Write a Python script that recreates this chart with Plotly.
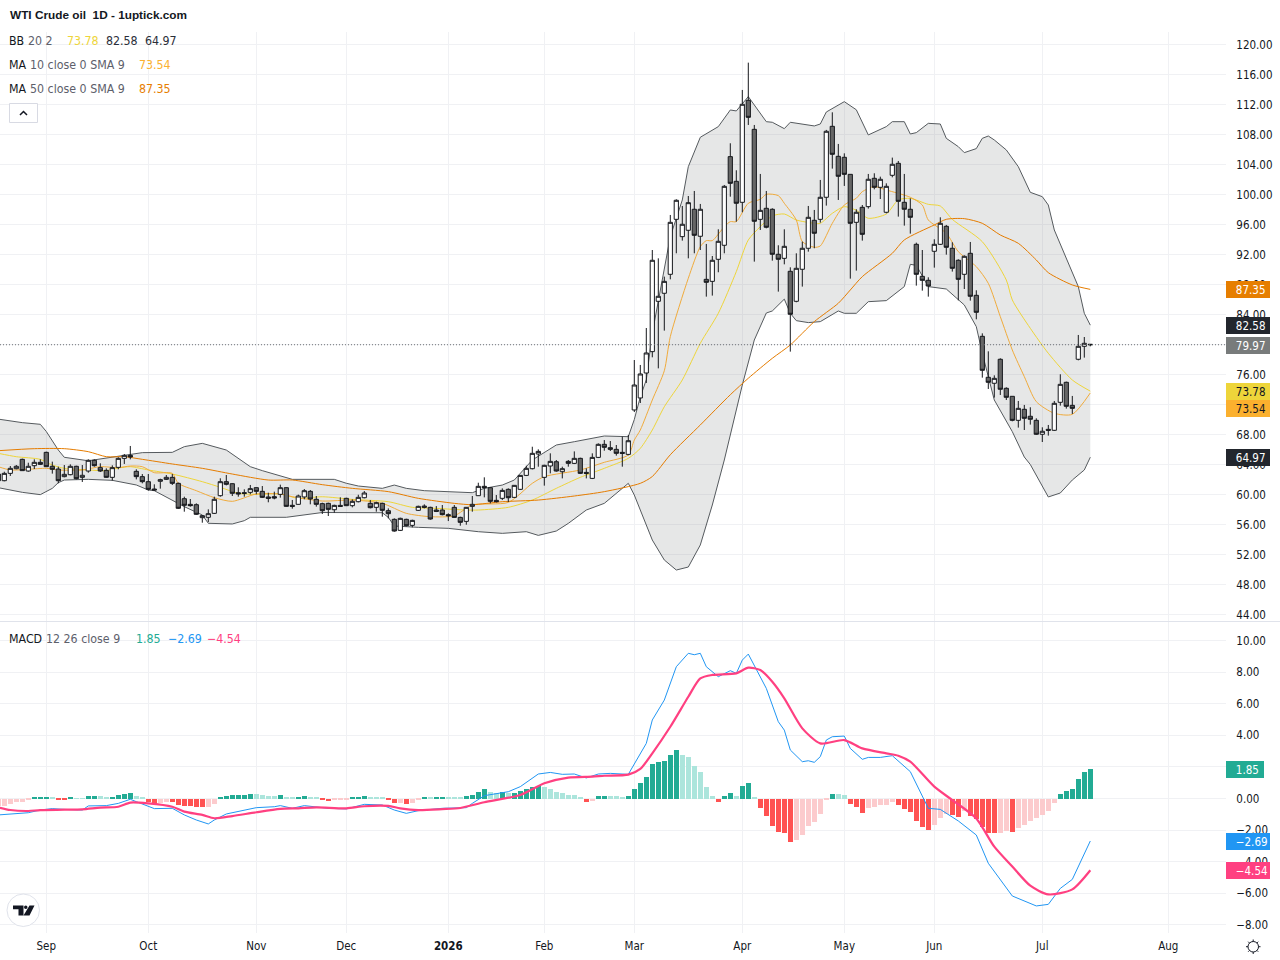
import plotly.graph_objects as go

# ---- daily bars, first entry is the partly hidden bar at the left edge ----
bar_index = list(range(-1, 182))
opens = [62.73,
 61.84,62.82,63.44,64.69,63.13,63.84,64.29,65.62,63.76,63.4,
 62.38,62.64,63.76,62.29,63.13,64.56,63.58,63.22,62.29,63.62,
 64.82,65.22,63.09,62.38,61.71,60.73,61.76,62.02,62.29,61.49,
 59.44,58.69,58.64,56.91,56.96,57.49,59.84,61.71,61.44,60.24,
 60.24,60.29,60.91,60.42,59.67,59.71,60.02,60.91,58.56,58.69,
 59.67,60.42,59.36,58.78,58.82,57.97,58.55,59.49,58.51,59.04,
 59.57,58.82,58.29,58.82,57.84,56.69,55.22,56.69,55.89,57.89,
 58.46,58.29,57.93,57.93,57.31,58.29,56.95,56.42,58.42,59.84,
 61.09,60.91,59.22,59.49,60.69,59.62,60.69,62.55,63.44,65.4,
 62.29,63.8,64.37,63.04,64.42,64.15,64.82,62.95,62.15,64.95,
 66.69,66.24,66.02,65.62,65.35,71.27,72.87,76.2,79.05,85.76,
 86.83,89.36,96.69,94.38,95.23,98.03,94.43,88.69,88.42,91.36,
 93.23,105.05,101.76,98.96,112.56,108.69,96.69,98.16,98.03,92.03,
 91.49,89.76,85.76,90.03,92.83,96.56,96.69,99.63,109.09,105.09,
 104.96,102.69,96.29,98.29,98.38,102.16,100.96,97.63,102.56,104.16,
 98.96,98.03,93.36,89.09,88.56,92.43,93.36,95.76,92.83,91.23,
 89.36,92.16,86.56,81.09,75.63,74.83,78.03,74.16,73.09,69.89,
 71.36,70.43,69.89,68.03,68.69,68.56,72.29,74.96,71.89,78.03,
 79.76,80.03]
highs = [62.9,
 63.04,63.8,63.93,64.78,64.24,64.69,64.69,65.71,64.38,63.71,
 63.93,64.02,63.84,63.93,64.69,64.69,64.16,63.49,63.89,64.96,
 65.4,66.47,63.36,62.73,62.73,61.36,62.11,62.6,62.73,61.58,
 59.71,59.4,58.82,57.27,58.02,59.71,62.16,62.6,61.49,60.96,
 60.69,61.27,60.96,61.13,60.24,60.38,61.31,60.96,59.27,59.98,
 60.73,60.6,59.8,58.91,58.91,58.64,59.62,59.57,59.35,59.97,
 60.46,59.26,59.04,58.91,58.15,56.82,56.91,56.77,56.64,58.51,
 58.69,58.37,58.46,58.6,57.49,58.6,57.04,58.33,59.8,61.57,
 62.29,60.95,59.93,60.82,60.82,61.26,62.6,63.84,66.37,66.02,
 63.97,65.49,64.6,63.71,64.6,65.75,64.91,63.49,65.49,66.82,
 67.26,67.13,66.6,67.71,67.93,77.93,77.27,82.2,92.6,91.49,
 89.05,97.27,99.36,98.47,99.8,100.47,98.74,93.41,91.8,95.36,
 101.27,106.83,103.23,113.94,117.58,109.27,102.74,100.47,98.16,93.23,
 95.36,90.29,92.16,93.72,98.47,97.94,101.94,108.61,110.96,106.74,
 105.49,102.69,98.03,98.6,102.74,102.83,102.38,101.49,104.92,104.47,
 102.74,99.49,93.58,92.6,88.96,94.03,96.96,95.94,93.63,91.36,
 91.89,93.67,87.23,81.49,79.09,75.89,78.16,74.29,73.09,72.47,
 71.94,71.63,70.16,68.96,69.27,72.47,76.03,75.05,73.14,81.27,
 81.0,80.06]
lows = [61.7,
 61.76,62.47,63.36,63.18,63.04,63.4,63.93,63.71,62.78,61.49,
 62.29,62.56,62.02,61.67,62.91,63.71,63.0,62.24,61.84,63.36,
 64.07,64.69,62.02,61.49,60.51,60.51,60.78,61.93,61.27,58.07,
 57.71,58.38,57.27,56.24,56.33,57.4,59.71,61.22,59.8,59.71,
 59.71,60.02,60.02,59.53,58.96,59.36,59.58,58.38,58.11,58.64,
 59.36,58.69,58.38,57.4,57.13,57.57,58.37,58.46,58.29,58.95,
 59.49,58.15,57.71,57.04,56.82,55.04,55.13,55.75,55.62,57.8,
 58.15,56.64,57.66,57.22,56.46,56.91,55.84,55.97,57.71,59.8,
 59.62,58.82,58.95,59.26,59.0,59.53,60.6,62.46,63.35,63.71,
 61.18,62.82,63.04,62.15,63.71,64.06,62.73,62.15,62.06,64.86,
 65.84,65.8,65.18,63.71,65.22,71.0,72.2,74.87,78.29,76.82,
 81.85,88.69,92.16,93.85,91.49,92.16,92.6,86.38,86.52,89.63,
 92.16,99.71,96.38,97.63,109.27,91.05,95.27,95.49,91.18,87.05,
 90.69,79.05,85.63,87.72,92.38,92.83,96.25,98.52,103.45,99.27,
 101.14,88.78,89.85,93.85,98.12,100.69,99.4,97.49,102.29,97.05,
 95.85,94.78,87.85,87.18,86.38,90.25,93.27,91.98,89.72,85.89,
 87.4,85.85,83.36,75.58,74.07,72.92,73.27,72.6,69.76,68.92,
 68.6,69.32,67.94,67.0,67.85,68.47,71.85,71.45,70.74,77.89,
 78.25,79.76]
closes = [61.84,
 62.82,63.49,63.76,63.18,63.76,64.29,64.02,63.71,63.36,61.84,
 62.69,63.76,62.11,62.56,64.56,63.84,63.13,62.29,63.58,64.82,
 65.22,65.0,62.38,61.71,60.69,60.6,61.98,62.29,61.49,58.16,
 58.56,58.51,57.36,57.18,57.44,59.36,61.71,61.36,60.16,60.07,
 60.16,60.78,60.42,59.62,59.49,59.53,60.91,58.42,58.42,59.8,
 60.51,59.4,58.69,57.84,58.02,58.55,58.42,58.51,59.09,59.62,
 60.2,58.24,58.91,57.89,57.44,55.13,56.82,55.84,56.55,58.42,
 58.29,56.73,57.75,57.31,57.17,56.95,56.29,58.29,58.69,61.09,
 60.91,59.09,59.04,60.55,59.57,61.22,62.55,63.49,65.49,65.75,
 63.89,64.42,63.13,63.44,64.15,64.82,62.82,62.82,64.95,66.69,
 66.29,66.02,65.49,65.49,67.17,74.6,76.07,78.87,91.23,86.43,
 88.42,96.29,99.23,96.03,98.91,94.56,98.03,88.29,91.23,93.76,
 101.09,101.49,98.83,112.03,110.29,96.43,97.89,95.63,92.03,91.36,
 93.09,84.03,90.16,92.83,96.96,94.83,99.63,108.43,105.36,102.43,
 102.69,96.16,97.63,94.69,102.03,100.96,102.03,101.09,104.03,99.09,
 98.03,96.96,89.36,88.56,87.8,93.36,96.16,92.96,90.16,88.69,
 91.76,86.43,84.29,76.56,74.96,75.49,74.03,72.96,69.89,71.49,
 70.16,70.03,68.03,68.43,68.56,72.16,74.69,71.76,71.49,79.76,
 80.16,79.97]

# ---- Bollinger bands (20, 2) ----
bb_upper_idx = [-1,3,6,7,9,10,14,18,21,23,28,30,33,37,41,43,48,53,55,57,59,63,65,67,70,78,80,83,85,88,92,95,100,104,105,106,107,108,109,110,111,113,114,116,119,121,122,124,125,127,128,130,131,135,136,137,140,142,144,147,148,150,151,152,154,156,157,159,160,162,163,164,165,167,169,171,173,174,175,179,180,181]
bb_upper = [70.05,69.58,69.36,68.4,65.93,64.96,64.5,64.95,65.27,65.58,65.62,66.38,66.82,65.93,63.71,63.18,62.02,62.0,62.02,61.5,61.13,60.82,61.26,60.82,60.51,60.24,60.82,61.26,61.93,64.6,66.6,67.04,67.8,67.71,70.0,73.0,75.3,81.5,85.8,90.0,94.38,99.27,103.71,107.63,109.05,111.27,111.14,113.05,111.94,109.71,109.63,108.78,109.63,109.14,109.4,111.0,112.38,111.3,107.94,109.05,109.71,109.71,108.07,108.25,109.49,109.4,107.49,106.38,105.58,106.12,107.49,107.8,107.27,105.94,103.71,100.29,99.71,98.6,95.27,87.72,84.16,82.58]
bb_lower_idx = [-1,3,6,8,9,10,14,18,22,24,25,29,30,33,34,38,40,41,47,53,57,63,64,65,69,74,79,83,87,89,92,94,97,100,103,104,105,106,108,110,112,114,116,118,120,123,125,127,128,130,131,132,134,136,139,140,142,144,147,150,151,152,154,157,159,160,162,163,165,168,170,171,174,176,178,180,181]
bb_lower = [60.91,60.29,59.98,60.82,61.58,61.93,62.02,61.89,61.27,60.6,60.51,58.82,58.38,57.27,56.16,56.07,56.51,56.96,56.96,57.6,57.62,57.57,56.95,55.8,55.62,55.49,55.04,54.82,55.04,54.55,55.13,56.15,57.93,58.82,60.82,61.49,59.93,57.93,53.93,51.27,49.93,50.33,53.27,58.6,64.6,74.6,80.6,84.2,84.47,86.05,84.16,83.18,82.92,83.05,84.47,84.16,84.16,85.71,85.85,87.72,90.69,90.56,87.72,87.4,85.94,85.27,82.38,78.83,72.6,68.38,65.0,64.0,59.67,60.2,61.93,63.27,64.97]
bb_basis_idx = [-1,2,6,8,10,14,17,19,21,24,28,33,36,39,42,46,49,53,58,64,68,72,77,79,84,88,92,96,100,104,106,108,110,113,116,119,122,124,126,128,130,132,135,136,138,140,142,144,147,149,151,154,156,158,163,167,168,171,174,178,181]
bb_basis = [65.49,65.04,64.69,63.93,63.49,63.27,63.18,63.53,63.71,63.27,62.73,61.71,60.96,60.16,60.02,60.07,59.49,59.7,59.35,59.04,58.29,58.15,57.93,57.93,58.29,59.26,60.82,62.29,63.49,64.82,66.15,68.6,71.7,75.27,80.16,84.16,89.72,93.94,95.71,97.14,97.4,96.6,96.16,96.16,97.49,98.38,97.9,96.83,97.4,99.27,99.49,98.69,98.47,96.69,93.71,88.6,85.94,82.16,78.83,75.27,73.78]

# ---- moving averages ----
ma10_idx = [-1,1,4,7,9,13,16,19,21,23,25,28,29,32,35,38,42,46,48,53,58,63,67,71,75,78,84,88,90,96,100,104,105,106,108,110,111,114,116,117,118,120,121,122,124,126,127,129,130,132,133,135,136,138,140,142,143,145,147,151,153,154,157,159,162,164,166,168,170,172,175,178,181]
ma10 = [63.71,63.27,63.36,63.49,63.27,63.27,63.71,63.58,63.8,63.71,62.91,62.82,61.49,60.51,59.58,59.09,60.07,60.07,59.71,59.13,59.26,58.82,57.49,57.04,57.17,58.6,58.95,61.49,62.38,63.27,64.29,65.27,67.26,68.6,72.6,76.5,81.05,88.83,93.05,93.85,93.85,95.71,96.38,96.38,98.83,99.36,100.03,99.85,98.83,96.6,93.72,92.96,93.14,96.16,98.6,99.5,100.38,101.05,100.6,99.63,98.6,96.6,94.83,92.38,90.38,88.16,83.72,79.27,75.72,72.38,70.83,70.69,73.54]
ma50_idx = [-1,5,10,14,17,20,23,28,33,38,44,48,53,58,64,69,75,78,83,89,95,100,106,108,111,116,121,124,128,131,135,139,141,143,148,150,155,157,160,163,166,169,172,174,178,181]
ma50 = [65.84,66.11,66.11,65.71,65.04,65.04,64.69,64.07,63.49,62.73,61.93,61.93,61.31,60.82,60.38,59.49,58.82,58.64,59.04,59.26,59.8,60.38,61.49,62.4,65.3,69.27,73.3,75.5,78.16,79.94,83.05,85.5,87.27,89.05,92.16,93.94,95.94,96.69,96.78,96.16,94.6,93.49,91.27,89.58,87.94,87.35]

# ---- MACD (12, 26, 9) ----
macd_idx = [-1,1,4,6,8,10,13,14,17,19,21,22,25,28,30,32,34,35,37,42,45,46,48,50,54,57,60,63,65,67,69,73,77,78,80,84,86,89,91,93,95,97,99,101,104,107,108,110,112,114,115,116,117,119,121,122,123,124,127,129,130,131,133,134,135,136,137,138,140,141,143,144,146,148,151,154,156,159,162,164,168,172,174,176,178,181]
macd_line = [-1.04,-1.0,-.9,-.73,-.64,-.69,-.73,-.47,-.45,-.31,-.05,-.2,-.64,-.62,-1.04,-1.36,-1.61,-1.36,-.98,-.58,-.52,-.45,-.62,-.45,-.62,-.66,-.37,-.41,-.73,-.94,-.77,-.62,-.58,-.31,.18,.43,.75,1.55,1.65,1.53,1.55,1.3,1.55,1.59,1.53,3.49,4.97,6.23,8.34,9.19,9.1,9.19,8.34,7.71,8.09,7.92,8.76,9.14,6.97,4.86,4.33,3.07,2.33,2.39,2.29,2.65,3.7,3.91,3.95,3.17,2.48,2.6,2.6,2.71,1.7,-.62,-.69,-1.42,-2.31,-4.1,-6.17,-6.8,-6.7,-5.69,-5.12,-2.69]
signal_idx = [-1,1,4,6,10,13,16,19,21,24,28,30,33,35,38,42,46,49,52,57,60,64,66,69,73,76,80,86,90,94,98,100,104,106,108,111,114,116,118,122,124,126,128,130,133,136,140,143,147,149,151,155,158,162,165,168,171,174,178,181]
signal_line = [-.56,-.73,-.79,-.73,-.71,-.69,-.58,-.52,-.26,-.31,-.52,-.83,-1.04,-1.25,-1.11,-.87,-.66,-.62,-.56,-.62,-.49,-.47,-.62,-.73,-.67,-.6,-.24,.22,.96,1.32,1.38,1.44,1.51,1.87,2.86,4.54,6.44,7.6,7.82,7.92,8.28,8.13,7.39,6.34,4.44,3.49,3.7,3.17,2.86,2.71,2.33,.75,-.1,-1.26,-3.05,-4.31,-5.52,-6.07,-5.75,-4.54]
hist_values = [-.47,
 -.46,-.36,-.24,-.23,-.1,.04,.07,.08,.07,-.1,
 -.11,.04,.03,.02,.15,.16,.15,.08,.09,.21,
 .27,.34,.15,.04,-.25,-.3,-.29,-.23,-.24,-.42,
 -.49,-.5,-.55,-.56,-.55,-.36,.04,.15,.2,.21,
 .22,.28,.27,.21,.15,.14,.21,.08,.04,.08,
 .15,.08,.04,-.1,-.17,-.1,-.09,-.08,.04,.08,
 .15,.08,.07,.04,-.1,-.3,-.29,-.36,-.3,-.1,
 .06,.05,.1,.11,.1,.09,.06,.13,.25,.44,
 .57,.44,.32,.44,.36,.37,.5,.57,.7,.82,
 .7,.57,.44,.32,.25,.24,.06,-.19,-.13,.13,
 .19,.18,.13,.06,.13,.63,.95,1.33,2.2,2.34,
 2.4,2.78,3.04,2.78,2.6,2.03,1.7,.7,.19,-.19,
 .19,.32,.13,.76,.95,.04,-.59,-1.1,-1.73,-2.1,
 -2.17,-2.74,-2.62,-2.3,-1.73,-1.48,-.95,-.1,.3,.29,
 .2,-.34,-.53,-.9,-.59,-.53,-.42,-.41,-.21,-.4,
 -.65,-.84,-1.41,-1.79,-1.98,-1.67,-1.22,-1.0,-1.03,-1.16,
 -.78,-1.1,-1.29,-1.79,-2.17,-2.18,-2.17,-2.05,-2.11,-1.86,
 -1.67,-1.41,-1.22,-1.03,-.78,-.27,.3,.49,.61,1.24,
 1.69,1.85]

# ---- axis ticks ----
price_ticks = list(range(44, 121, 4))
macd_ticks = list(range(-8, 11, 2))
month_idx = [7, 24, 42, 57, 74, 90, 105, 123, 140, 155, 173, 194]
month_labels = ["Sep", "Oct", "Nov", "Dec", "<b>2026</b>", "Feb", "Mar", "Apr", "May", "Jun", "Jul", "Aug"]

W, H = 1280, 960
AXIS_X = 1226
TXT = "#131722"
MUTED = "#5d606b"
UI_FONT = "DejaVu Sans Condensed, DejaVu Sans"
GRID = "#f0f1f4"
LEGEND_SIZE = 12.3
AXIS_SIZE = 11.5


def px(x):
    return x / W


def py(y):
    return 1 - y / H


def hist_colour(i):
    v = hist_values[i]
    rising = i == 0 or v > hist_values[i - 1]
    if v >= 0:
        return "#22ab94" if rising else "#ace5dc"
    return "#fccbcd" if rising else "#ff5252"


SMOOTH = dict(shape="spline", smoothing=0.7)

fig = go.Figure()

# Bollinger band area and the averages sit under the candles
fig.add_trace(go.Scatter(x=bb_lower_idx, y=bb_lower, mode="lines", line=dict(color="#555a5e", width=1), hoverinfo="skip"))
fig.add_trace(go.Scatter(x=bb_upper_idx, y=bb_upper, mode="lines", line=dict(color="#555a5e", width=1),
                         fill="tonexty", fillcolor="rgba(120,130,125,0.19)", hoverinfo="skip"))
fig.add_trace(go.Scatter(x=bb_basis_idx, y=bb_basis, mode="lines", line=dict(color="#eed53a", width=1, **SMOOTH), hoverinfo="skip"))
fig.add_trace(go.Scatter(x=ma10_idx, y=ma10, mode="lines", line=dict(color="#f0ab3c", width=1, **SMOOTH), hoverinfo="skip"))
fig.add_trace(go.Scatter(x=ma50_idx, y=ma50, mode="lines", line=dict(color="#e57c00", width=1, **SMOOTH), hoverinfo="skip"))

fig.add_trace(go.Candlestick(
    x=bar_index, open=opens, high=highs, low=lows, close=closes, yaxis="y3", xaxis="x",
    increasing=dict(line=dict(color="#16181c", width=1), fillcolor="#ffffff"),
    decreasing=dict(line=dict(color="#16181c", width=1), fillcolor="#666666"),
    whiskerwidth=0, hoverinfo="skip"))

fig.add_trace(go.Bar(x=bar_index, y=hist_values, xaxis="x2", yaxis="y2", width=0.84,
                     marker=dict(color=[hist_colour(i) for i in range(len(hist_values))], line=dict(width=0)),
                     hoverinfo="skip"))
fig.add_trace(go.Scatter(x=macd_idx, y=macd_line, xaxis="x2", yaxis="y2", mode="lines",
                         line=dict(color="#2196f3", width=1), hoverinfo="skip"))
fig.add_trace(go.Scatter(x=signal_idx, y=signal_line, xaxis="x2", yaxis="y2", mode="lines",
                         line=dict(color="#ff4081", width=2.2, **SMOOTH), hoverinfo="skip"))

x_range = [-4.3 / 6, (AXIS_X - 4.3) / 6]
top_range = [120 - (621 - 44.5) / 7.5, 120 + (44.5 - 32) / 7.5]
low_range = [(798.5 - 933) / 15.8, (798.5 - 622) / 15.8]

fig.update_layout(
    width=W, height=H, autosize=False, margin=dict(l=0, r=0, t=0, b=0),
    paper_bgcolor="#ffffff", plot_bgcolor="#ffffff", showlegend=False, bargap=0,
    boxgap=0.3, boxgroupgap=0,
    font=dict(family=UI_FONT, size=AXIS_SIZE, color=TXT),
    xaxis=dict(domain=[0, px(AXIS_X)], range=x_range, anchor="y", tickvals=month_idx, showticklabels=False,
               showgrid=True, gridcolor=GRID, gridwidth=1, zeroline=False, ticks="", rangeslider=dict(visible=False)),
    xaxis2=dict(domain=[0, px(AXIS_X)], range=x_range, anchor="y2", matches="x", tickvals=month_idx, ticktext=month_labels,
                showgrid=True, gridcolor=GRID, gridwidth=1, zeroline=False, ticks="outside", ticklen=2,
                tickcolor="rgba(0,0,0,0)", tickfont=dict(size=AXIS_SIZE, color=TXT)),
    yaxis=dict(domain=[py(621), py(32)], range=top_range, side="right", anchor="x", tickvals=price_ticks,
               tickformat=".2f", showgrid=True, gridcolor=GRID, zeroline=False, ticks="outside", ticklen=7,
               tickcolor="rgba(0,0,0,0)", tickfont=dict(size=AXIS_SIZE, color=TXT)),
    yaxis2=dict(domain=[py(933), py(622)], range=low_range, side="right", anchor="x2", tickvals=macd_ticks,
                tickformat=".2f", showgrid=True, gridcolor=GRID, zeroline=False, ticks="outside", ticklen=7,
                tickcolor="rgba(0,0,0,0)", tickfont=dict(size=AXIS_SIZE, color=TXT)),
    yaxis3=dict(overlaying="y", side="right", range=top_range, visible=False, matches="y"),
)

annotations = []


def label(x, y, text, colour=TXT, size=LEGEND_SIZE, family=UI_FONT):
    annotations.append(dict(xref="paper", yref="paper", x=px(x - 2), y=py(y + 1), text=text, showarrow=False,
                            xanchor="left", yanchor="middle", align="left",
                            font=dict(family=family, size=size, color=colour)))


label(10, 14, "<b>WTI Crude oil  1D - 1uptick.com</b>", "#131722", 11.8, "Liberation Sans")
label(9, 40, "BB", TXT)
label(28, 40, "20 2", MUTED)
label(67, 40, "73.78", "#eed53a")
label(106, 40, "82.58", "#2a2e39")
label(145, 40, "64.97", "#2a2e39")
label(9, 64, "MA", TXT)
label(30, 64, "10 close 0 SMA 9", MUTED)
label(139, 64, "73.54", "#fbb02e")
label(9, 88, "MA", TXT)
label(30, 88, "50 close 0 SMA 9", MUTED)
label(139, 88, "87.35", "#e67e00")
label(9, 638, "MACD", TXT)
label(46, 638, "12 26 close 9", MUTED)
label(136, 638, "1.85", "#22ab94")
label(168, 638, "\u22122.69", "#2196f3")
label(207, 638, "\u22124.54", "#ff4081")


def axis_tag(value, text, bg, fg="#ffffff", yref="y", yshift=0, width=44):
    # left-aligned text inside a tag that starts at the axis edge
    annotations.append(dict(xref="paper", yref=yref, x=px(AXIS_X), y=value, yshift=yshift,
                            text="\u00a0\u00a0\u00a0" + text, showarrow=False,
                            xanchor="left", yanchor="middle", width=width, height=17, align="left",
                            bgcolor=bg, borderpad=0, borderwidth=0, font=dict(family=UI_FONT, size=AXIS_SIZE, color=fg)))


axis_tag(87.35, "87.35", "#e67e00")
axis_tag(82.58, "82.58", "#22262d")
axis_tag(79.97, "79.97", "#787b7b", yshift=-0.6)
axis_tag(73.78, "73.78", "#eed53a", TXT)
axis_tag(73.54, "73.54", "#fbb02e", TXT, yshift=-15.5)
axis_tag(64.97, "64.97", "#22262d")
axis_tag(1.85, "1.85", "#22ab94", yref="y2", width=38)
axis_tag(-2.69, "\u22122.69", "#2196f3", yref="y2")
axis_tag(-4.54, "\u22124.54", "#ff4081", yref="y2")

fig.update_layout(annotations=annotations)


def pth(cmds):
    # turns pixel-space path commands into a paper-referenced SVG path
    out = []
    for c in cmds:
        if isinstance(c, str):
            out.append(c)
        else:
            out.append(f"{px(c[0]):.5f},{py(c[1]):.5f}")
    return " ".join(out)


shapes = [
    # pane separator and last-price line
    dict(type="line", xref="paper", yref="paper", x0=0, x1=1, y0=py(621.5), y1=py(621.5), line=dict(color="#e0e3eb", width=1)),
    dict(type="line", xref="paper", yref="y", x0=0, x1=px(AXIS_X), y0=79.97, y1=79.97, line=dict(color="#6f7276", width=1, dash="1px,2px")),
    # collapse button
    dict(type="rect", xref="paper", yref="paper", x0=px(9.5), x1=px(37.5), y0=py(122.5), y1=py(103.5),
         line=dict(color="#d8dae3", width=1), fillcolor="#ffffff"),
    dict(type="path", xref="paper", yref="paper", path=pth(["M", (20, 115), "L", (23.5, 111.5), "L", (27, 115)]),
         line=dict(color="#131722", width=1.5)),
    # logo badge
    dict(type="circle", xref="paper", yref="paper", x0=px(7), x1=px(39.5), y0=py(926.5), y1=py(894),
         line=dict(color="#e0e3eb", width=1), fillcolor="#ffffff"),
    dict(type="path", xref="paper", yref="paper", fillcolor="#131722", line=dict(width=0),
         path=pth(["M", (13, 905.5), "L", (23.5, 905.5), "L", (23.5, 915.5), "L", (18.5, 915.5), "L", (18.5, 909.2), "L", (13, 909.2), "Z"])),
    dict(type="circle", xref="paper", yref="paper", fillcolor="#131722", line=dict(width=0),
         x0=px(24), x1=px(27.5), y0=py(909), y1=py(905.5)),
    dict(type="path", xref="paper", yref="paper", fillcolor="#131722", line=dict(width=0),
         path=pth(["M", (29.5, 905.5), "L", (34.5, 905.5), "L", (29.5, 915.5), "L", (23.5, 915.5), "Z"])),
    # settings icon
    dict(type="circle", xref="paper", yref="paper", x0=px(1248), x1=px(1258.5), y0=py(952), y1=py(941.5),
         line=dict(color="#131722", width=1), fillcolor="#ffffff"),
    dict(type="path", xref="paper", yref="paper", line=dict(color="#131722", width=1),
         path=pth(["M", (1253.2, 939.5), "L", (1253.2, 941.5), "M", (1253.2, 952), "L", (1253.2, 954),
                   "M", (1246, 946.7), "L", (1248, 946.7), "M", (1258.5, 946.7), "L", (1260.5, 946.7),
                   "M", (1248.2, 941.7), "L", (1249.5, 943), "M", (1258.2, 941.7), "L", (1256.9, 943),
                   "M", (1248.2, 951.7), "L", (1249.5, 950.4), "M", (1258.2, 951.7), "L", (1256.9, 950.4)])),
]
fig.update_layout(shapes=shapes)

fig.write_html("out.html", config=dict(displayModeBar=False))
